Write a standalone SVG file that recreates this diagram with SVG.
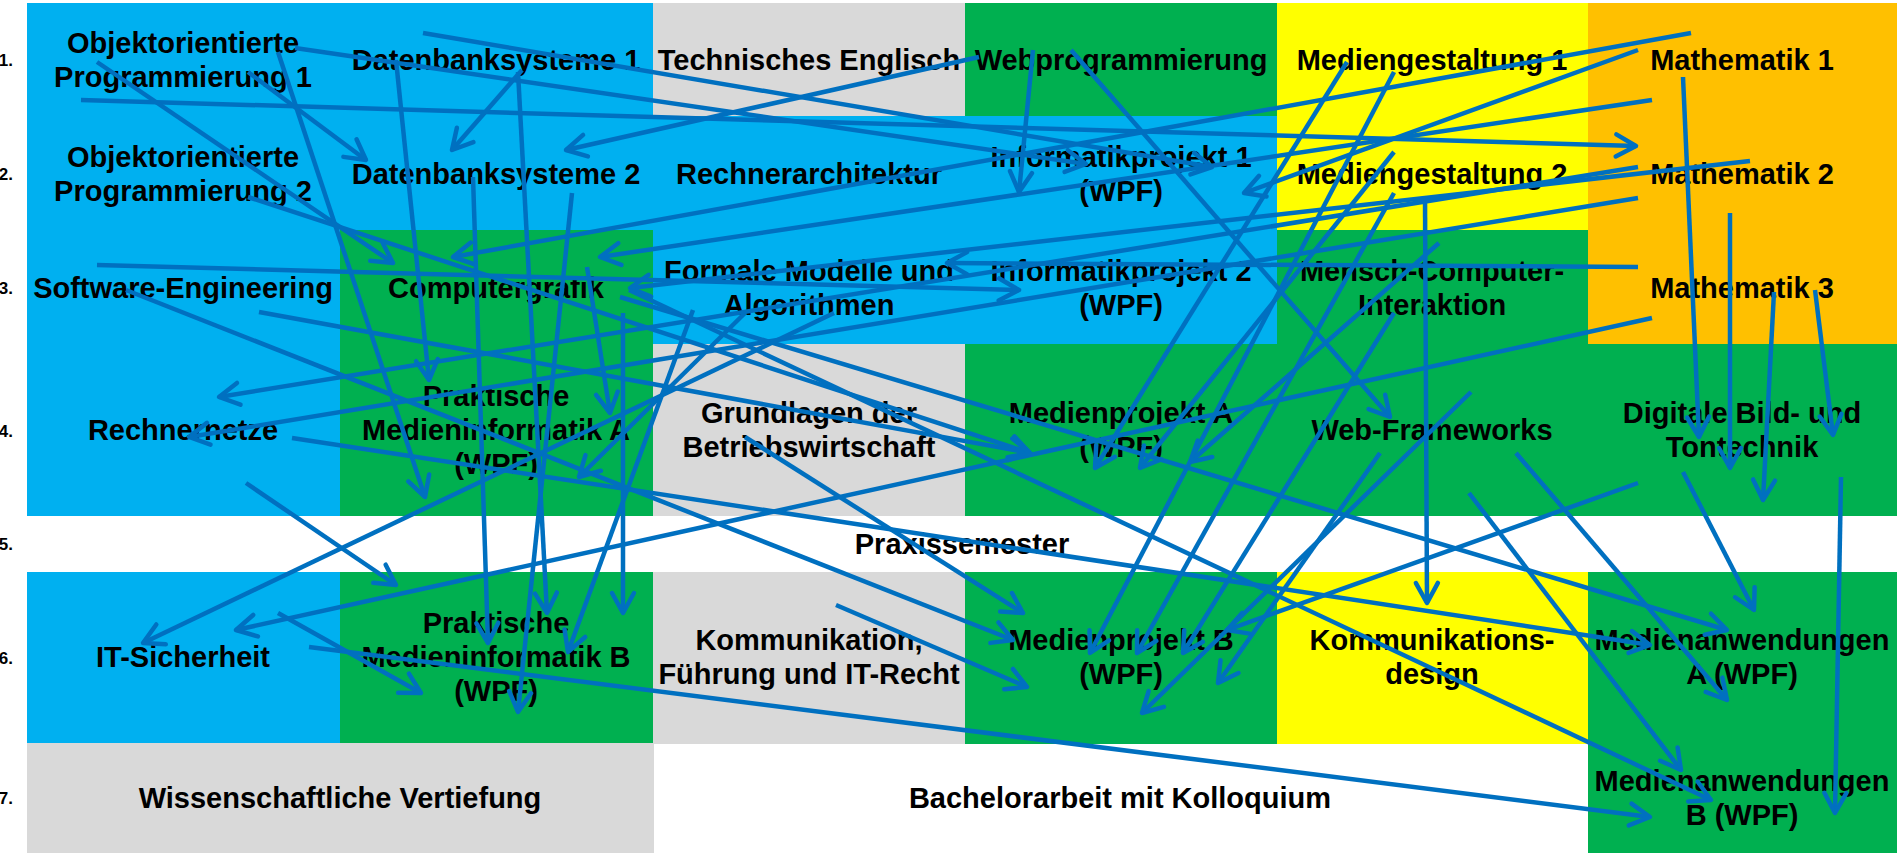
<svg xmlns="http://www.w3.org/2000/svg" width="1897" height="853" viewBox="0 0 1897 853">
<style>
.b{fill:#00B0F0}.g{fill:#00B050}.y{fill:#FFFF00}.o{fill:#FFC000}.s{fill:#D9D9D9}.w{fill:#FFFFFF}
text{font-family:"Liberation Sans",Arial,sans-serif;font-weight:bold;font-size:29px;fill:#000;text-anchor:middle}
text.n{font-size:17px;text-anchor:end}
#connectors line{stroke:#0070C0;stroke-width:4.5;fill:none;marker-end:url(#ah)}
</style>
<defs>
<marker id="ah" markerUnits="userSpaceOnUse" markerWidth="40" markerHeight="40" viewBox="-25 -20 30 40" refX="0" refY="0" orient="auto" overflow="visible">
<path d="M-20,-11 L0,0 L-20,11" fill="none" stroke="#0070C0" stroke-width="4.5" stroke-linecap="round" stroke-linejoin="round"/>
</marker>
</defs>
<rect x="0" y="0" width="1897" height="853" fill="#FFFFFF"/>
<g id="row-numbers">
<text class="n" x="13" y="66">1.</text>
<text class="n" x="13" y="180">2.</text>
<text class="n" x="13" y="294">3.</text>
<text class="n" x="13" y="437">4.</text>
<text class="n" x="13" y="550">5.</text>
<text class="n" x="13" y="664">6.</text>
<text class="n" x="13" y="804">7.</text>
</g>
<g id="oop1"><rect class="b" x="27" y="3" width="314" height="114"/><text x="183" y="53">Objektorientierte</text><text x="183" y="87">Programmierung 1</text></g>
<g id="db1"><rect class="b" x="340" y="3" width="314" height="114"/><text x="496" y="70">Datenbanksysteme 1</text></g>
<g id="te"><rect class="s" x="653" y="3" width="313" height="114"/><text x="809" y="70">Technisches Englisch</text></g>
<g id="wp"><rect class="g" x="965" y="3" width="313" height="114"/><text x="1121" y="70">Webprogrammierung</text></g>
<g id="mg1"><rect class="y" x="1277" y="3" width="312" height="114"/><text x="1432" y="70">Mediengestaltung 1</text></g>
<g id="ma1"><rect class="o" x="1588" y="3" width="309" height="114"/><text x="1742" y="70">Mathematik 1</text></g>
<g id="oop2"><rect class="b" x="27" y="116" width="314" height="115"/><text x="183" y="167">Objektorientierte</text><text x="183" y="201">Programmierung 2</text></g>
<g id="db2"><rect class="b" x="340" y="116" width="314" height="115"/><text x="496" y="184">Datenbanksysteme 2</text></g>
<g id="ra"><rect class="b" x="653" y="116" width="313" height="115"/><text x="809" y="184">Rechnerarchitektur</text></g>
<g id="ip1"><rect class="b" x="965" y="116" width="313" height="115"/><text x="1121" y="167">Informatikprojekt 1</text><text x="1121" y="201">(WPF)</text></g>
<g id="mg2"><rect class="y" x="1277" y="116" width="312" height="115"/><text x="1432" y="184">Mediengestaltung 2</text></g>
<g id="ma2"><rect class="o" x="1588" y="116" width="309" height="115"/><text x="1742" y="184">Mathematik 2</text></g>
<g id="se"><rect class="b" x="27" y="230" width="314" height="115"/><text x="183" y="298">Software-Engineering</text></g>
<g id="cg"><rect class="g" x="340" y="230" width="314" height="115"/><text x="496" y="298">Computergrafik</text></g>
<g id="fma"><rect class="b" x="653" y="230" width="313" height="115"/><text x="809" y="281">Formale Modelle und</text><text x="809" y="315">Algorithmen</text></g>
<g id="ip2"><rect class="b" x="965" y="230" width="313" height="115"/><text x="1121" y="281">Informatikprojekt 2</text><text x="1121" y="315">(WPF)</text></g>
<g id="mci"><rect class="g" x="1277" y="230" width="312" height="115"/><text x="1432" y="281">Mensch-Computer-</text><text x="1432" y="315">Interaktion</text></g>
<g id="ma3"><rect class="o" x="1588" y="230" width="309" height="115"/><text x="1742" y="298">Mathematik 3</text></g>
<g id="rn"><rect class="b" x="27" y="344" width="314" height="172"/><text x="183" y="440">Rechnernetze</text></g>
<g id="pmia"><rect class="g" x="340" y="344" width="314" height="172"/><text x="496" y="406">Praktische</text><text x="496" y="440">Medieninformatik A</text><text x="496" y="474">(WPF)</text></g>
<g id="bwl"><rect class="s" x="653" y="344" width="313" height="172"/><text x="809" y="423">Grundlagen der</text><text x="809" y="457">Betriebswirtschaft</text></g>
<g id="mpa"><rect class="g" x="965" y="344" width="313" height="172"/><text x="1121" y="423">Medienprojekt A</text><text x="1121" y="457">(WPF)</text></g>
<g id="wf"><rect class="g" x="1277" y="344" width="312" height="172"/><text x="1432" y="440">Web-Frameworks</text></g>
<g id="dbt"><rect class="g" x="1588" y="344" width="309" height="172"/><text x="1742" y="423">Digitale Bild- und</text><text x="1742" y="457">Tontechnik</text></g>
<g id="ps"><text x="962" y="554">Praxissemester</text></g>
<g id="its"><rect class="b" x="27" y="572" width="314" height="172"/><text x="183" y="667">IT-Sicherheit</text></g>
<g id="pmib"><rect class="g" x="340" y="572" width="314" height="172"/><text x="496" y="633">Praktische</text><text x="496" y="667">Medieninformatik B</text><text x="496" y="701">(WPF)</text></g>
<g id="kfr"><rect class="s" x="653" y="572" width="313" height="172"/><text x="809" y="650">Kommunikation,</text><text x="809" y="684">Führung und IT-Recht</text></g>
<g id="mpb"><rect class="g" x="965" y="572" width="313" height="172"/><text x="1121" y="650">Medienprojekt B</text><text x="1121" y="684">(WPF)</text></g>
<g id="kd"><rect class="y" x="1277" y="572" width="312" height="172"/><text x="1432" y="650">Kommunikations-</text><text x="1432" y="684">design</text></g>
<g id="maa"><rect class="g" x="1588" y="572" width="309" height="172"/><text x="1742" y="650">Medienanwendungen</text><text x="1742" y="684">A (WPF)</text></g>
<g id="wv"><rect class="s" x="27" y="743" width="627" height="110"/><text x="340" y="808">Wissenschaftliche Vertiefung</text></g>
<g id="ba"><text x="1120" y="808">Bachelorarbeit mit Kolloquium</text></g>
<g id="mab"><rect class="g" x="1588" y="743" width="309" height="110"/><text x="1742" y="791">Medienanwendungen</text><text x="1742" y="825">B (WPF)</text></g>
<g id="connectors">
<line x1="81" y1="100" x2="1636" y2="146"/>
<line x1="295" y1="48" x2="1086" y2="164"/>
<line x1="423" y1="33" x2="1212" y2="167"/>
<line x1="979" y1="57" x2="566" y2="150"/>
<line x1="522" y1="70" x2="452" y2="150"/>
<line x1="248" y1="72" x2="366" y2="160"/>
<line x1="97" y1="62" x2="393" y2="263"/>
<line x1="1033" y1="50" x2="1019" y2="192"/>
<line x1="1071" y1="50" x2="1390" y2="417"/>
<line x1="1691" y1="33" x2="453" y2="257"/>
<line x1="1638" y1="50" x2="1244" y2="193"/>
<line x1="1652" y1="100" x2="600" y2="257"/>
<line x1="1750" y1="161" x2="630" y2="288"/>
<line x1="278" y1="52" x2="425" y2="497"/>
<line x1="396" y1="60" x2="429" y2="380"/>
<line x1="1638" y1="267" x2="947" y2="263"/>
<line x1="1638" y1="167" x2="219" y2="397"/>
<line x1="1638" y1="198" x2="189" y2="437"/>
<line x1="248" y1="197" x2="1030" y2="453"/>
<line x1="126" y1="290" x2="1013" y2="640"/>
<line x1="292" y1="438" x2="1650" y2="645"/>
<line x1="246" y1="483" x2="396" y2="585"/>
<line x1="745" y1="437" x2="1023" y2="613"/>
<line x1="1347" y1="62" x2="1095" y2="468"/>
<line x1="1394" y1="72" x2="1090" y2="653"/>
<line x1="1394" y1="152" x2="1140" y2="468"/>
<line x1="1394" y1="193" x2="1137" y2="653"/>
<line x1="1394" y1="313" x2="1183" y2="653"/>
<line x1="1439" y1="243" x2="1190" y2="462"/>
<line x1="1683" y1="472" x2="1754" y2="610"/>
<line x1="1516" y1="453" x2="1727" y2="700"/>
<line x1="620" y1="297" x2="1727" y2="630"/>
<line x1="629" y1="290" x2="1711" y2="800"/>
<line x1="1425" y1="198" x2="1427" y2="603"/>
<line x1="1683" y1="77" x2="1699" y2="437"/>
<line x1="1730" y1="213" x2="1730" y2="468"/>
<line x1="1774" y1="292" x2="1763" y2="500"/>
<line x1="1815" y1="290" x2="1833" y2="435"/>
<line x1="1841" y1="477" x2="1835" y2="813"/>
<line x1="309" y1="647" x2="1650" y2="817"/>
<line x1="1469" y1="493" x2="1681" y2="770"/>
<line x1="1638" y1="483" x2="1227" y2="630"/>
<line x1="1380" y1="453" x2="1218" y2="683"/>
<line x1="1471" y1="392" x2="1142" y2="713"/>
<line x1="572" y1="193" x2="518" y2="712"/>
<line x1="278" y1="613" x2="421" y2="693"/>
<line x1="473" y1="177" x2="488" y2="643"/>
<line x1="518" y1="72" x2="547" y2="613"/>
<line x1="693" y1="310" x2="568" y2="652"/>
<line x1="623" y1="313" x2="623" y2="613"/>
<line x1="587" y1="267" x2="610" y2="413"/>
<line x1="745" y1="313" x2="579" y2="477"/>
<line x1="97" y1="265" x2="1019" y2="290"/>
<line x1="834" y1="313" x2="143" y2="643"/>
<line x1="1652" y1="318" x2="236" y2="630"/>
<line x1="836" y1="605" x2="1027" y2="687"/>
<line x1="259" y1="312" x2="1030" y2="453"/>
</g>
</svg>
